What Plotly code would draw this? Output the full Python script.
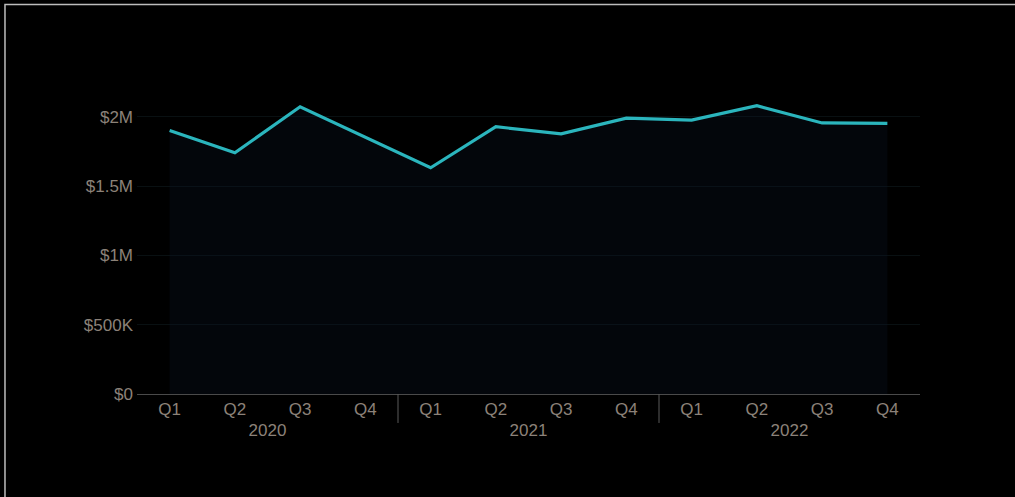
import plotly.graph_objects as go

years = ["2020"] * 4 + ["2021"] * 4 + ["2022"] * 4
quarters = ["Q1", "Q2", "Q3", "Q4"] * 3
revenue = [1900000, 1740000, 2072000, 1855000,
           1632000, 1928000, 1877000, 1990000,
           1976000, 2079000, 1955000, 1952000]
y_tickvals = [0, 500000, 1000000, 1500000, 2000000]
y_ticktext = ["$0", "$500K", "$1M", "$1.5M", "$2M"]

fig = go.Figure()
fig.add_trace(go.Scatter(
    x=[years, quarters], y=revenue, mode="lines",
    line=dict(color="#2bb5bd", width=3.2),
    fill="tozeroy", fillcolor="rgba(12,22,40,0.27)",
    hoverinfo="skip", showlegend=False,
))

n = len(quarters)
year_bounds = [i for i in range(1, n) if years[i] != years[i - 1]]
shapes = [dict(
    type="line", xref="paper", yref="paper",
    x0=b / n, x1=b / n, y0=0, y1=-0.095,
    line=dict(color="#5a5a5a", width=1), layer="above",
) for b in year_bounds]
shapes.append(dict(
    type="rect", xref="paper", yref="paper",
    x0=-0.1686, x1=1.15, y0=-0.40, y1=1.277,
    line=dict(color="#bdbdbd", width=1.5), fillcolor="rgba(0,0,0,0)",
    layer="above",
))

fig.update_layout(
    width=1015, height=497,
    paper_bgcolor="#000000", plot_bgcolor="#000000",
    margin=dict(l=137, r=95, t=89, b=103),
    font=dict(family="Liberation Sans, Arial, sans-serif", size=17, color="#8c8279"),
    xaxis=dict(
        range=[-0.5, 11.5],
        showgrid=False, showline=True, linecolor="#4a4a4a", linewidth=1,
        ticks="", showdividers=False,
        tickfont=dict(size=17, color="#8c8279"),
    ),
    yaxis=dict(
        range=[0, 2200000], tickvals=y_tickvals, ticktext=y_ticktext,
        showgrid=True, gridcolor="#091012", gridwidth=1,
        zeroline=False, showline=False, ticklabelstandoff=3,
        tickfont=dict(size=17, color="#8c8279"),
    ),
    shapes=shapes,
)

fig.write_html("out.html", config={"displayModeBar": False},
               post_script="document.body.style.margin='0';")
